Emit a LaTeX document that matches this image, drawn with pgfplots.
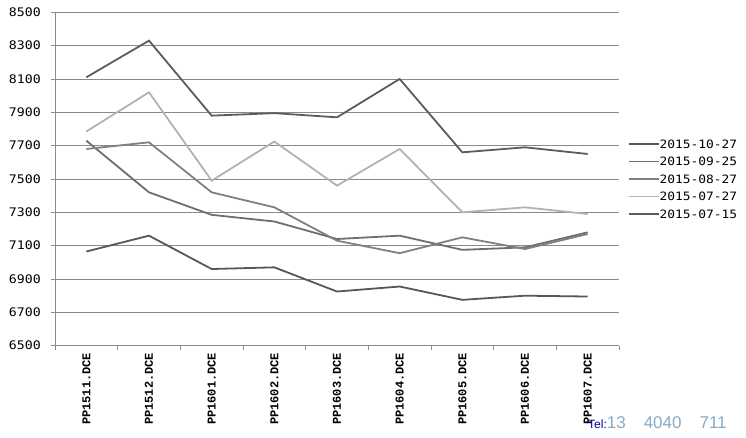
\documentclass[border=0pt]{standalone}
\usepackage{pgfplots}
\pgfplotsset{compat=1.18}
\usepackage{fontspec}
\setmainfont{Liberation Sans}
\newfontfamily\legfont[FakeStretch=1.12]{DejaVu Sans Mono}
\newfontfamily\xfont{Liberation Mono}
\definecolor{gridc}{HTML}{8A8A8A}
\definecolor{cA}{HTML}{5C5C5C}
\definecolor{cB}{HTML}{6E6E6E}
\definecolor{cC}{HTML}{808080}
\definecolor{cD}{HTML}{B2B2B2}
\definecolor{cE}{HTML}{575757}
\definecolor{wm}{HTML}{86A9C6}
\begin{document}
\begin{tikzpicture}
\begin{axis}[
  at={(0pt,0pt)}, anchor=south west,
  scale only axis, width=564pt, height=333.4pt,
  xmin=0, xmax=9, ymin=6500, ymax=8500,
  axis x line*=bottom, axis y line*=left,
  axis line style={gridc, line width=0.9pt},
  ymajorgrids, grid style={gridc, line width=0.9pt},
  ytick={6500,6700,...,8500},
  xtick={0.5,1.5,2.5,3.5,4.5,5.5,6.5,7.5,8.5},
  xticklabels={PP1511.DCE,PP1512.DCE,PP1601.DCE,PP1602.DCE,PP1603.DCE,PP1604.DCE,PP1605.DCE,PP1606.DCE,PP1607.DCE},
  minor xtick={0,1,...,9},
  tick align=outside,
  major tick length=4pt, minor tick length=4pt,
  tick style={gridc, line width=0.9pt},
  major x tick style={draw=none},
  xticklabel style={rotate=90, anchor=east, font=\xfont\bfseries\fontsize{12}{12}\selectfont, inner sep=3pt},
  yticklabel style={font=\legfont\fontsize{11.8}{12}\selectfont, inner sep=0pt, xshift=-10pt},
  /pgf/number format/assume math mode=true,
  /pgf/number format/1000 sep={},
  legend style={at={(1,0.5)}, anchor=west, xshift=9pt, draw=none, fill=none,
    inner sep=0pt, font=\legfont\fontsize{11.5}{12}\selectfont,
    nodes={inner sep=0pt, text height=8.5pt, text depth=0pt},
    row sep=9pt},
  legend cell align=left,
  legend image code/.code={\draw[#1, line width=1.5pt] (0pt,0pt) -- (30pt,0pt);},
  every axis plot/.append style={line width=1.8pt, mark=none},
]
\addplot[cE] coordinates {(0.5,7065) (1.5,7160) (2.5,6960) (3.5,6970) (4.5,6825) (5.5,6855) (6.5,6775) (7.5,6800) (8.5,6795)};
\addplot[cB] coordinates {(0.5,7730) (1.5,7420) (2.5,7285) (3.5,7245) (4.5,7140) (5.5,7160) (6.5,7075) (7.5,7090) (8.5,7180)};
\addplot[cC] coordinates {(0.5,7680) (1.5,7720) (2.5,7420) (3.5,7330) (4.5,7130) (5.5,7055) (6.5,7150) (7.5,7080) (8.5,7170)};
\addplot[cD] coordinates {(0.5,7785) (1.5,8020) (2.5,7490) (3.5,7725) (4.5,7460) (5.5,7680) (6.5,7300) (7.5,7330) (8.5,7290)};
\addplot[cA] coordinates {(0.5,8110) (1.5,8330) (2.5,7880) (3.5,7895) (4.5,7870) (5.5,8100) (6.5,7660) (7.5,7690) (8.5,7650)};
\legend{2015-10-27,2015-09-25,2015-08-27,2015-07-27,2015-07-15}
\end{axis}
\node[anchor=west, text=wm, font=\fontsize{17}{17}\selectfont, inner sep=0pt] at (533pt,-77pt) {{\color{blue!60!black}\fontsize{12}{12}\selectfont Tel:}13\hspace{18pt}4040\hspace{18pt}711};
\pgfresetboundingbox
\path[use as bounding box] (-55pt,-92.3pt) rectangle (691pt,345.7pt);
\end{tikzpicture}
\end{document}
